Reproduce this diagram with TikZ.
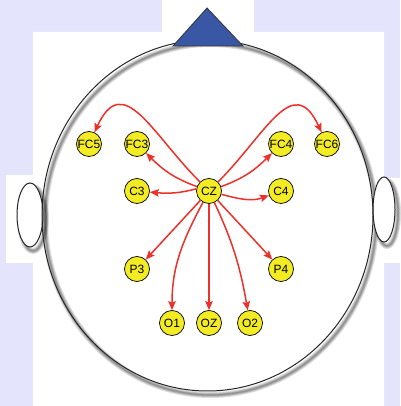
\documentclass[tikz,border=0pt]{standalone}
\usepackage{fontspec}
\setmainfont{Liberation Sans}
\usetikzlibrary{arrows.meta}
\definecolor{lav}{RGB}{228,228,252}
\definecolor{eegyellow}{RGB}{243,236,34}
\definecolor{eegred}{RGB}{238,48,42}
\definecolor{noseblue}{RGB}{58,87,165}
\begin{document}
\begin{tikzpicture}[x=1pt,y=1pt,
  electrode/.style={circle,draw=black,line width=0.7pt,fill=eegyellow,minimum size=25pt,inner sep=0pt,font=\fontsize{12}{12}\selectfont},
  link/.style={draw=eegred,line width=1.5pt,-{Stealth[length=9pt,width=7.5pt,inset=1.5pt]}},
  shadowline/.style={draw=black,opacity=0.13},
  outline/.style={draw=black!85,line width=1pt}]
\useasboundingbox (0,0) rectangle (400,406);
% background
\fill[lav] (0,0) rectangle (400,406);
\fill[white] (162,406) -- (254,406) -- (254,374) -- (384,374) -- (384,228) -- (400,228)
  -- (400,143) -- (384,143) -- (384,0) -- (33,0) -- (33,143) -- (6,143) -- (6,231)
  -- (33,231) -- (33,374) -- (162,374) -- cycle;
% shadows
\foreach \w in {6,4,2.5,1.2}{
  \draw[shadowline,line width=\w pt] (210.5,186.5) ellipse [x radius=165.5,y radius=175.5];
  \draw[shadowline,line width=\w pt] (33,187) ellipse [x radius=13,y radius=32];
  \draw[shadowline,line width=\w pt] (387,192.5) ellipse [x radius=11,y radius=32.5];
}
% ears
\filldraw[fill=white,outline] (30,191) ellipse [x radius=13,y radius=32];
\filldraw[fill=white,outline] (384,196.5) ellipse [x radius=11,y radius=32.5];
% head
\draw[outline] (207.5,190.5) ellipse [x radius=165.5,y radius=175.5];
% nose
\filldraw[fill=noseblue,draw=black!80,line width=0.8pt] (173,360) -- (207,398) -- (243,360) -- cycle;
% electrodes
\node[electrode] (FC5) at (89,262) {FC5};
\node[electrode] (FC3) at (137,262) {FC3};
\node[electrode] (FC4) at (281,262) {FC4};
\node[electrode] (FC6) at (327,262) {FC6};
\node[electrode] (C3) at (137,215) {C3};
\node[electrode] (CZ) at (209,215) {CZ};
\node[electrode] (C4) at (281,215) {C4};
\node[electrode] (P3) at (137,137) {P3};
\node[electrode] (P4) at (281,137) {P4};
\node[electrode] (O1) at (172,83) {O1};
\node[electrode] (OZ) at (209,83) {OZ};
\node[electrode] (O2) at (250,83) {O2};
% connections
\draw[link] (CZ) to[out=135,in=65,looseness=1.5] (FC5);
\draw[link] (CZ) to[out=45,in=115,looseness=1.5] (FC6);
\draw[link] (CZ) to[out=160,in=-45] (FC3);
\draw[link] (CZ) to[out=20,in=225] (FC4);
\draw[link] (CZ.170) to[out=195,in=-5] (C3);
\draw[link] (CZ) to[out=-15,in=200] (C4);
\draw[link] (CZ) -- (P3);
\draw[link] (CZ) -- (P4);
\draw[link] (CZ) to[out=-118,in=90] (O1);
\draw[link] (CZ) -- (OZ);
\draw[link] (CZ) to[out=-65,in=100] (O2);
\end{tikzpicture}
\end{document}
